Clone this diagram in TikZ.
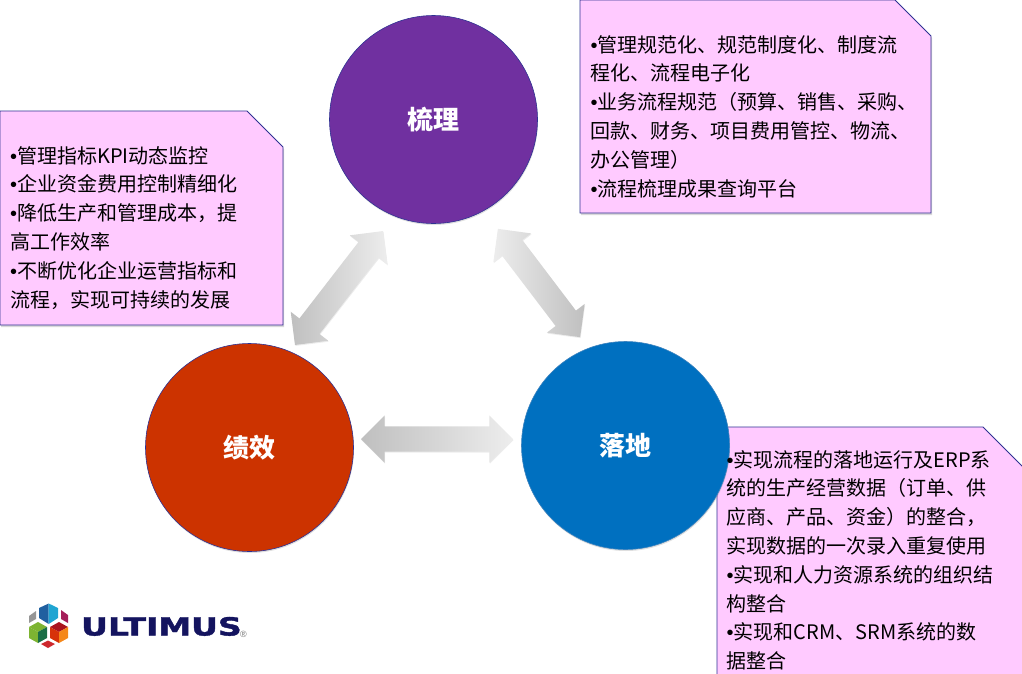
\documentclass[tikz,border=0pt]{standalone}
\usepackage{fontspec}
\setmainfont{Noto Sans CJK SC}
\newfontfamily\logofont[BoldFeatures={FakeBold=1.5}]{DejaVu Sans}
\newfontfamily\bulletfont{Liberation Sans}
\newcommand{\bu}{{\bulletfont •}}
\usetikzlibrary{shapes.arrows,shadows}
\definecolor{notefill}{HTML}{FFCAFF}
\definecolor{noteline}{HTML}{2E3192}
\definecolor{logonavy}{HTML}{14145F}

\begin{document}
\begin{tikzpicture}[
		x=1pt,y=-1pt,
		every node/.style={inner sep=0pt},
		notebox/.style={fill=notefill,draw=noteline,line width=0.8pt,
			drop shadow={shadow xshift=1pt,shadow yshift=-2pt,opacity=0.3}},
		notetext/.style={anchor=north west,align=left,text=black,
			font=\fontsize{20}{28.8}\selectfont},
		stage/.style={circle,minimum size=208pt,draw=noteline,line width=0.6pt,text=white,
			font=\fontsize{26}{26}\selectfont\bfseries,
			drop shadow={shadow xshift=0.5pt,shadow yshift=-1.5pt,opacity=0.25}},
		grayarrow/.style={double arrow,minimum height=#1,minimum width=47pt,
			text height=12.5pt,text depth=12.5pt,
			double arrow head extend=11pt,double arrow tip angle=90,
			drop shadow={shadow xshift=0.5pt,shadow yshift=-1pt,opacity=0.15}},
		cubeface/.style={line width=0pt}
		]
		\clip (0,0) rectangle (1022,673);
		\useasboundingbox (0,0) rectangle (1022,673);

		% note boxes
		\draw[notebox] (580,0) -- (895,0) -- (931,36) -- (931,213) -- (580,213) -- cycle;
		\draw[notebox] (0,111) -- (247,111) -- (283,147) -- (283,325) -- (0,325) -- cycle;
		\draw[notebox] (717,690) -- (717,427) -- (983,427) -- (1030,474) -- (1030,690) -- cycle;

		% the three stages
		\node[stage,fill={rgb,255:red,112;green,48;blue,160}] (shuli) at (433.5,119.5) {梳理};
		\node[stage,fill={rgb,255:red,204;green,51;blue,0}] (jixiao) at (249.5,447.5) {绩效};
		\node[stage,fill={rgb,255:red,0;green,112;blue,192},draw={rgb,255:red,60;green,130;blue,190}] (luodi) at (625.5,445.5) {落地};

		% arrows between them
		\node[grayarrow=144pt,rotate=52.3,left color=black!25,right color=black!7] (arrowleft) at (339,288) {};
		\node[grayarrow=136pt,rotate=-52.8,left color=black!7,right color=black!25] (arrowright) at (539,283) {};
		\node[grayarrow=152pt,left color=black!25,right color=black!7] (arrowbottom) at (437,439) {};

		% note texts
		\node[notetext] (notetop) at (590.5,35) {\bu 管理规范化、规范制度化、制度流\\程化、流程电子化\\\bu 业务流程规范（预算、销售、采购、\\回款、财务、项目费用管控、物流、\\办公管理）\\\bu 流程梳理成果查询平台};
		\node[notetext] (noteleft) at (10,146) {\bu 管理指标KPI动态监控\\\bu 企业资金费用控制精细化\\\bu 降低生产和管理成本，提\\高工作效率\\\bu 不断优化企业运营指标和\\流程，实现可持续的发展};
		\node[notetext] (noteright) at (726.5,450) {\bu 实现流程的落地运行及ERP系\\统的生产经营数据（订单、供\\应商、产品、资金）的整合，\\实现数据的一次录入重复使用\\\bu 实现和人力资源系统的组织结\\构整合\\\bu 实现和CRM、SRM系统的数\\据整合};

		% logo
		\fill[cubeface,fill={rgb,255:red,32;green,96;blue,160}] (48.7,603.5) -- (39,608) -- (39,618) -- (48.7,624) -- cycle;
		\fill[cubeface,fill={rgb,255:red,32;green,165;blue,210}] (48.7,603.5) -- (58,608) -- (58,618) -- (48.7,624) -- cycle;
		\fill[cubeface,fill={rgb,255:red,150;green,150;blue,150}] (36,611) -- (29,616) -- (29,623) -- (36,619) -- cycle;
		\fill[cubeface,fill={rgb,255:red,165;green,30;blue,90}] (61,610) -- (68,615) -- (68,623) -- (61,619) -- cycle;
		\fill[cubeface,fill={rgb,255:red,125;green,180;blue,50}] (29,627) -- (38,622) -- (47,627) -- (38,632) -- cycle;
		\fill[cubeface,fill={rgb,255:red,125;green,180;blue,50}] (29,627) -- (38,632) -- (38,643) -- (29,638) -- cycle;
		\fill[cubeface,fill={rgb,255:red,25;green,110;blue,70}] (38,632) -- (47,627) -- (47,638) -- (38,643) -- cycle;
		\fill[cubeface,fill={rgb,255:red,170;green,20;blue,30}] (50,627) -- (59,622) -- (68,627) -- (59,632) -- cycle;
		\fill[cubeface,fill={rgb,255:red,215;green,50;blue,10}] (50,627) -- (59,632) -- (59,643) -- (50,638) -- cycle;
		\fill[cubeface,fill={rgb,255:red,245;green,135;blue,25}] (59,632) -- (68,627) -- (68,638) -- (59,643) -- cycle;
		\fill[cubeface,fill={rgb,255:red,205;green,40;blue,45}] (41,644) -- (48,640.5) -- (55,644) -- (48,648) -- cycle;
		\node[anchor=base west,text=logonavy] (logoname) at (81,635.5) {\scalebox{1.32}[1]{\logofont\fontsize{25}{25}\selectfont\bfseries ULTIMUS}};
		\node[anchor=base west,text=black!55] (logomark) at (240,637) {\bulletfont\fontsize{9}{9}\selectfont ®};
	\end{tikzpicture}
\end{document}
